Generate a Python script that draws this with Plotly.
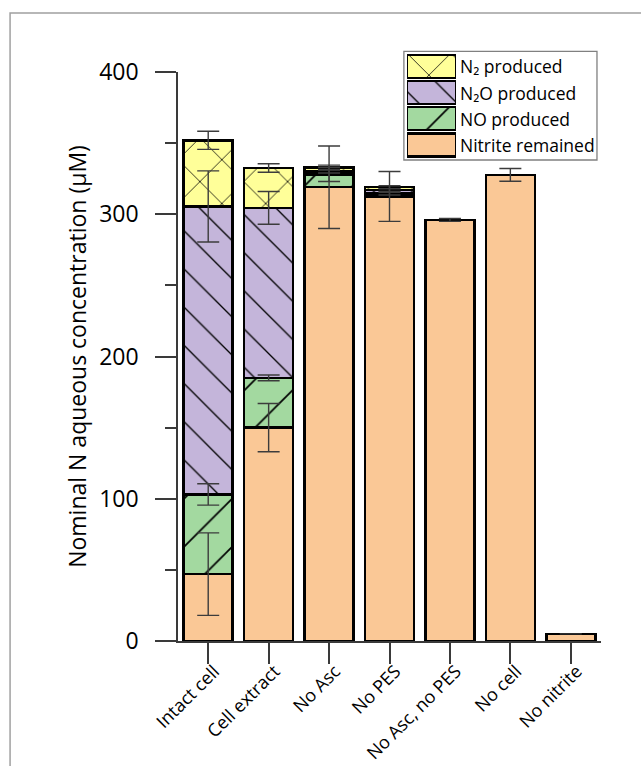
import numpy as np
import plotly.graph_objects as go

# Treatments along the x axis
categories = ["Intact cell", "Cell extract", "No Asc", "No PES",
              "No Asc, no PES", "No cell", "No nitrite"]

# Nitrogen pools (µM N), stacked bottom to top, with their errors
nitrite_remained = [47, 150, 319, 312.5, 296, 327.7, 5]
nitrite_err = [29, 17, 29, 17.5, 1, 4.5, 0]
no_produced = [56, 35, 9, 2, 0, 0, 0]
no_err = [7.5, 2, 5, 1, 0, 0, 0]
n2o_produced = [202.5, 119.5, 2, 2.5, 0, 0, 0]
n2o_err = [25, 11.5, 1, 1, 0, 0, 0]
n2_produced = [46.5, 28, 3, 2, 0, 0, 0]
n2_err = [6.4, 3, 1.5, 1, 0, 0, 0]

series_names = ["Nitrite remained", "NO produced", "N₂O produced", "N₂ produced"]
series_values = [nitrite_remained, no_produced, n2o_produced, n2_produced]
series_errors = [nitrite_err, no_err, n2o_err, n2_err]
series_colors = ["#FAC896", "#A3D9A0", "#C4B5DA", "#FFFF99"]
series_patterns = ["", "/", "\\", "x"]
pattern_sizes = [20, 34, 27, 31]

FONT = "Open Sans"
AXIS_COLOR = "#3a3a3a"

fig = go.Figure()


def as_bar_values(vals):
    return [v if v else None for v in vals]


# Stacked bars
for name, vals, col, shp, psz in zip(series_names, series_values, series_colors,
                                      series_patterns, pattern_sizes):
    pattern = dict(shape=shp, fgcolor="black", bgcolor=col, size=psz,
                   solidity=0.05, fillmode="replace")
    fig.add_trace(go.Bar(
        x=categories, y=as_bar_values(vals), name=name,
        marker=dict(color=col, line=dict(color="black", width=2.5),
                    pattern=pattern),
        showlegend=False, hoverinfo="skip",
    ))

# Error bars at the top of each stacked segment, drawn over all bars
tops = np.cumsum(np.array(series_values, dtype=float), axis=0)
for vals, top, err in zip(series_values, tops, series_errors):
    ys = [t if v else None for v, t in zip(vals, top)]
    errs = [e if v else None for v, e in zip(vals, err)]
    fig.add_trace(go.Scatter(
        x=categories, y=ys, mode="markers",
        marker=dict(size=1, opacity=0),
        error_y=dict(type="data", array=errs, color="#3c3c3c",
                     thickness=1.4, width=11),
        showlegend=False, hoverinfo="skip",
    ))

# Legend swatches drawn as one-bar rows in a small inset axis
legend_order = list(range(len(series_names)))[::-1]
for i in legend_order:
    fig.add_trace(go.Bar(
        x=[1], y=[series_names[i]], base=0, orientation="h", width=0.88,
        marker=dict(color=series_colors[i], line=dict(color="black", width=2.5),
                    pattern=dict(shape=series_patterns[i], fgcolor="black",
                                 bgcolor=series_colors[i], size=pattern_sizes[i],
                                 solidity=0.05, fillmode="replace")),
        xaxis="x2", yaxis="y2", showlegend=False, hoverinfo="skip",
    ))

annotations = [
    dict(text=series_names[i], x=0.662, xref="paper", y=series_names[i],
         yref="y2", xanchor="left", yanchor="middle", showarrow=False,
         font=dict(family=FONT, size=17.5, color="black"))
    for i in legend_order
]

fig.update_layout(
    width=641, height=766,
    margin=dict(l=178, r=40, t=40, b=125, autoexpand=False),
    paper_bgcolor="white", plot_bgcolor="white",
    barmode="stack", bargap=0.19,
    font=dict(family=FONT, color="black"),
    xaxis=dict(
        type="category", range=[-0.5, 6.5], showgrid=False, zeroline=False,
        showline=True, linecolor=AXIS_COLOR, linewidth=1.5,
        ticks="outside", ticklen=21, tickwidth=1.5, tickcolor=AXIS_COLOR,
        tickangle=-45, tickfont=dict(family=FONT, size=18, color="black"),
        ticklabelstandoff=-10, ticklabelshift=6,
        automargin=False,
    ),
    yaxis=dict(
        domain=[0, 569 / 601], range=[0, 400], dtick=100, showgrid=False,
        zeroline=False, showline=True, linecolor=AXIS_COLOR, linewidth=1.5,
        ticks="outside", ticklen=21, tickwidth=1.5, tickcolor=AXIS_COLOR,
        minor=dict(dtick=50, ticks="outside", ticklen=11, tickwidth=1.5,
                   tickcolor=AXIS_COLOR),
        tickfont=dict(family=FONT, size=23, color="black"),
        ticklabelstandoff=12,
        automargin=False,
        title=dict(text="Nominal N aqueous concentration (µM)",
                   font=dict(family=FONT, size=23, color="black"), standoff=6),
    ),
    xaxis2=dict(domain=[0.5414, 0.6572], anchor="y2", range=[0, 1],
                visible=False, fixedrange=True),
    yaxis2=dict(domain=[0.8037, 0.978], anchor="x2", type="category",
                categoryorder="array",
                categoryarray=[series_names[i] for i in legend_order],
                range=[3.5, -0.5], visible=False, fixedrange=True),
    annotations=annotations,
    shapes=[
        # legend box
        dict(type="rect", xref="paper", yref="paper",
             x0=0.534, x1=0.9905, y0=0.8003, y1=0.981,
             line=dict(color="#808080", width=1.3), layer="below"),
        # outer frame
        dict(type="rect", xref="paper", yref="paper",
             x0=-0.397, x1=1.3, y0=-0.4, y1=1.0449,
             line=dict(color="#A0A0A0", width=1.5), layer="below"),
    ],
)

fig.write_html("out.html")
